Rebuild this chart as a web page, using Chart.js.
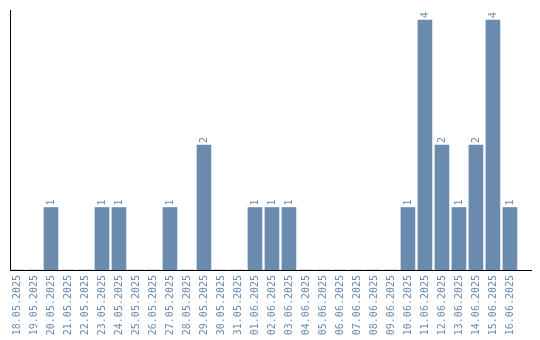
<!DOCTYPE html>
<html>
<head>
<meta charset="utf-8">
<script src="https://cdn.jsdelivr.net/npm/chart.js@4"></script>
<style>
  html, body { margin: 0; padding: 0; background: #fff; }
  #wrap { width: 540px; height: 340px; }
</style>
</head>
<body>
<div id="wrap"><canvas id="grafico"></canvas></div>
<script>
const datas = ["18.05.2025", "19.05.2025", "20.05.2025", "21.05.2025", "22.05.2025", "23.05.2025",
  "24.05.2025", "25.05.2025", "26.05.2025", "27.05.2025", "28.05.2025", "29.05.2025",
  "30.05.2025", "31.05.2025", "01.06.2025", "02.06.2025", "03.06.2025", "04.06.2025",
  "05.06.2025", "06.06.2025", "07.06.2025", "08.06.2025", "09.06.2025", "10.06.2025",
  "11.06.2025", "12.06.2025", "13.06.2025", "14.06.2025", "15.06.2025", "16.06.2025"];
const valores = [0, 0, 1, 0, 0, 1, 1, 0, 0, 1, 0, 2, 0, 0, 1, 1, 1, 0, 0, 0, 0, 0, 0, 1, 4, 2, 1, 2, 4, 1];

const corBarra = "#6a8bad";
const fonte = "'DejaVu Sans Mono', monospace";

// escreve o valor em cima de cada barra, girado como os rotulos do eixo
const rotuloValor = {
  id: "rotuloValor",
  afterDatasetsDraw(chart) {
    const ctx = chart.ctx;
    const meta = chart.getDatasetMeta(0);
    ctx.save();
    ctx.fillStyle = corBarra;
    ctx.font = "10px " + fonte;
    ctx.textAlign = "left";
    ctx.textBaseline = "middle";
    meta.data.forEach((barra, i) => {
      if (!valores[i]) return;
      ctx.save();
      ctx.translate(barra.x, barra.y - 2);
      ctx.rotate(-Math.PI / 2);
      ctx.fillText(String(valores[i]), 0, 0);
      ctx.restore();
    });
    ctx.restore();
  }
};

new Chart(document.getElementById("grafico"), {
  type: "bar",
  data: {
    datasets: [{
      data: valores.map((v, i) => ({ x: i, y: v })),
      backgroundColor: corBarra,
      barThickness: 14
    }]
  },
  options: {
    responsive: true,
    maintainAspectRatio: false,
    animation: false,
    layout: { padding: { left: 10, top: 10, right: 9, bottom: 0 } },
    plugins: { legend: { display: false }, tooltip: { enabled: false } },
    scales: {
      x: {
        type: "linear",
        offset: false,
        min: -0.41,
        max: 30.24,
        grid: { display: false, drawTicks: false },
        border: { display: true, color: "#000", width: 1 },
        afterFit: (s) => { s.height = 70; },
        // so um tick por dia, sem o tick vazio no fim
        afterBuildTicks: (s) => { s.ticks = s.ticks.filter((t) => t.value < datas.length); },
        ticks: {
          stepSize: 1,
          includeBounds: false,
          autoSkip: false,
          minRotation: 90,
          maxRotation: 90,
          padding: 5,
          color: corBarra,
          font: { family: fonte, size: 10 },
          callback: (v) => datas[v] || ""
        }
      },
      y: {
        min: 0,
        max: 4.16,
        grid: { display: false, drawTicks: false },
        border: { display: true, color: "#000", width: 1 },
        ticks: { display: false },
        afterFit: (s) => { s.width = 0; }
      }
    }
  },
  plugins: [rotuloValor]
});
</script>
</body>
</html>
